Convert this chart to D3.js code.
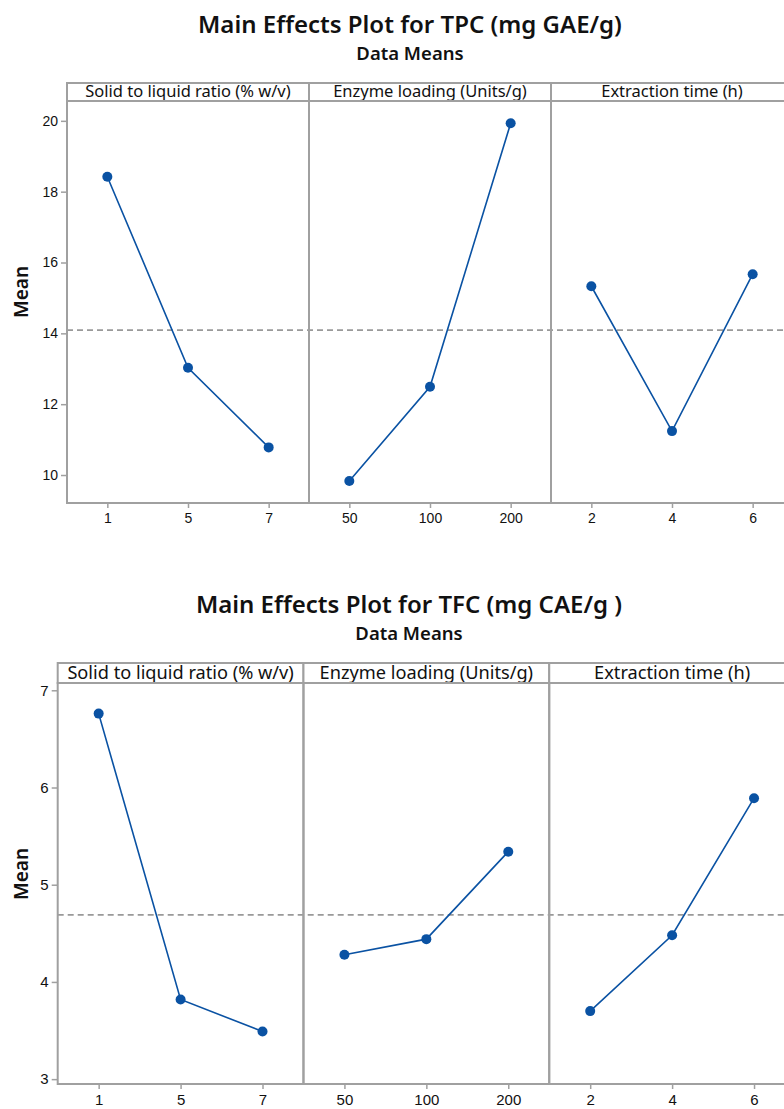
<!DOCTYPE html>
<html>
<head>
<meta charset="utf-8">
<script src="https://cdn.jsdelivr.net/npm/d3@7"></script>
<style>
  body { margin: 0; background: #fff; }
  svg { display: block; font-family: "Noto Sans", "Open Sans", sans-serif; }
</style>
</head>
<body>
<script>

// Factors and their levels (same for both plots)
var factors = ["Solid to liquid ratio (% w/v)", "Enzyme loading (Units/g)", "Extraction time (h)"];
var levels = [["1", "5", "7"], ["50", "100", "200"], ["2", "4", "6"]];

// TPC (mg GAE/g) data means, one array per factor
var tpcSolid = [18.42, 13.03, 10.78];
var tpcEnzyme = [9.83, 12.49, 19.93];
var tpcTime = [15.33, 11.24, 15.67];
var tpcGrandMean = 14.09;
var tpcTicks = [10, 12, 14, 16, 18, 20];
var tpcDomain = [9.21, 20.56];

// TFC (mg CAE/g) data means
var tfcSolid = [6.76, 3.82, 3.49];
var tfcEnzyme = [4.28, 4.44, 5.34];
var tfcTime = [3.70, 4.48, 5.89];
var tfcGrandMean = 4.69;
var tfcTicks = [3, 4, 5, 6, 7];
var tfcDomain = [2.95, 7.075];

var blue = "#0a52a3";
var frameGray = "#a0a0a0";

var svg = d3.select("body").append("svg")
    .attr("width", 784)
    .attr("height", 1109);

// Draws one Minitab-style main effects plot
function drawPlot(o) {
  var g = svg.append("g");
  var pw = (o.right - o.left) / 3;

  var y = d3.scaleLinear()
      .domain(o.domain)
      .range([o.bottom, o.top]);

  // titles
  g.append("text")
      .attr("x", o.cx)
      .attr("y", o.titleY)
      .attr("text-anchor", "middle")
      .attr("fill", "#111")
      .style("font-size", o.titleSize + "px")
      .style("font-weight", 600)
      .text(o.title);

  g.append("text")
      .attr("x", o.cx)
      .attr("y", o.subY)
      .attr("text-anchor", "middle")
      .attr("fill", "#111")
      .style("font-size", o.subSize + "px")
      .style("font-weight", 600)
      .text("Data Means");

  // y axis label
  g.append("text")
      .attr("transform", "translate(" + o.meanX + "," + o.meanY + ") rotate(-90)")
      .attr("text-anchor", "middle")
      .attr("fill", "#111")
      .style("font-size", o.meanSize + "px")
      .style("font-weight", 600)
      .text("Mean");

  // y axis
  var ya = g.append("g")
      .attr("transform", "translate(" + o.left + ",0)")
      .call(d3.axisLeft(y).tickValues(o.ticks).tickSize(6).tickPadding(3).tickFormat(d3.format("d")));
  ya.select(".domain").remove();
  ya.selectAll(".tick line").attr("stroke", frameGray).attr("stroke-width", 1.5);
  ya.selectAll(".tick text")
      .attr("fill", "#111")
      .style("font-size", o.tickSize + "px")
      .style("font-family", "inherit");

  // grand mean reference line
  g.append("line")
      .attr("x1", o.left)
      .attr("x2", o.right)
      .attr("y1", y(o.grandMean))
      .attr("y2", y(o.grandMean))
      .attr("stroke", "#999")
      .attr("stroke-width", 1.6)
      .attr("stroke-dasharray", "6,4");

  for (var i = 0; i < 3; i++) {
    var x0 = o.left + i * pw;
    var x = d3.scalePoint()
        .domain(levels[i])
        .range([x0, x0 + pw])
        .padding(0.5);

    var xa = g.append("g")
        .attr("transform", "translate(0," + o.bottom + ")")
        .call(d3.axisBottom(x).tickSize(5).tickPadding(5));
    xa.select(".domain").remove();
    xa.selectAll(".tick line").attr("stroke", frameGray).attr("stroke-width", 1.5);
    xa.selectAll(".tick text")
        .attr("fill", "#111")
        .style("font-size", o.tickSize + "px")
        .style("font-family", "inherit");

    var pts = levels[i].map(function(l, j) { return [l, o.values[i][j]]; });

    g.append("path")
        .datum(pts)
        .attr("fill", "none")
        .attr("stroke", blue)
        .attr("stroke-width", 1.6)
        .attr("d", d3.line()
          .x(function(d) { return x(d[0]); })
          .y(function(d) { return y(d[1]); }));

    g.selectAll(null)
        .data(pts)
        .enter().append("circle")
        .attr("cx", function(d) { return x(d[0]); })
        .attr("cy", function(d) { return y(d[1]); })
        .attr("r", 5)
        .attr("fill", blue);

    // strip header
    g.append("rect")
        .attr("x", x0)
        .attr("y", o.stripTop)
        .attr("width", pw)
        .attr("height", o.top - o.stripTop)
        .attr("fill", "#fff")
        .attr("stroke", frameGray)
        .attr("stroke-width", 2);

    g.append("text")
        .attr("x", x0 + pw / 2)
        .attr("y", o.top - 4)
        .attr("text-anchor", "middle")
        .style("font-size", o.stripSize + "px")
        .attr("fill", "#111")
        .text(factors[i]);

    // panel frame
    g.append("rect")
        .attr("x", x0)
        .attr("y", o.top)
        .attr("width", pw)
        .attr("height", o.bottom - o.top)
        .attr("fill", "none")
        .attr("stroke", frameGray)
        .attr("stroke-width", 2);
  }
}

drawPlot({
  title: "Main Effects Plot for TPC (mg GAE/g)",
  values: [tpcSolid, tpcEnzyme, tpcTime],
  grandMean: tpcGrandMean,
  ticks: tpcTicks,
  domain: tpcDomain,
  left: 67, right: 793, stripTop: 83, top: 101, bottom: 503,
  cx: 410, titleY: 33, subY: 60, titleSize: 24, subSize: 18.5,
  meanX: 28, meanY: 292, meanSize: 19, tickSize: 14, stripSize: 16.5
});

drawPlot({
  title: "Main Effects Plot for TFC (mg CAE/g )",
  values: [tfcSolid, tfcEnzyme, tfcTime],
  grandMean: tfcGrandMean,
  ticks: tfcTicks,
  domain: tfcDomain,
  left: 57.7, right: 795, stripTop: 663, top: 683, bottom: 1084,
  cx: 409, titleY: 613, subY: 640, titleSize: 24, subSize: 18.5,
  meanX: 28, meanY: 874, meanSize: 19, tickSize: 15, stripSize: 18.2
});

</script>
</body>
</html>
